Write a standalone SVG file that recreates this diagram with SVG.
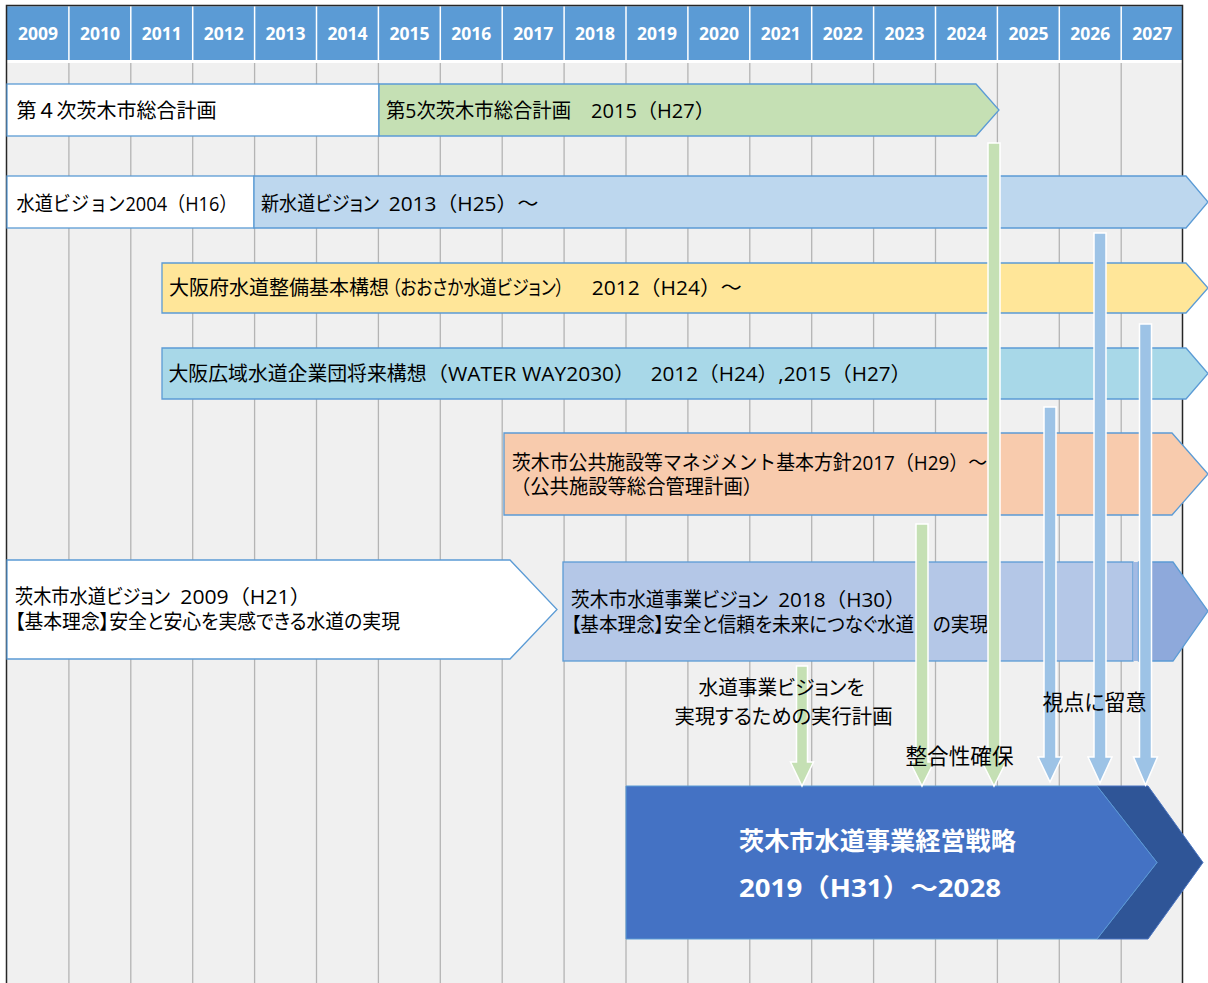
<svg xmlns="http://www.w3.org/2000/svg" width="1208" height="983" viewBox="0 0 1208 983">
<style>
.t{font-family:"Open Sans","Noto Sans CJK JP",sans-serif;font-size:20px;fill:#000}
.p{font-feature-settings:"palt"}
.lbl{font-size:21.5px}
.yr{font-family:"Open Sans","Noto Sans CJK JP",sans-serif;font-size:17.5px;font-weight:700;fill:#fff;text-anchor:middle}
.ttl{font-family:"Open Sans","Noto Sans CJK JP",sans-serif;font-size:25px;font-weight:700;fill:#fff}
.box{stroke:#5B9BD5;stroke-width:1.3}
.cg{fill:#C5E0B4;stroke:#fff;stroke-width:1.5}
.cb{fill:#9DC3E6;stroke:#fff;stroke-width:1.5}
</style>
<rect width="1208" height="983" fill="#fff"/>
<g id="timeline">
<rect x="7" y="63" width="1175.5" height="920" fill="#F0F0F0"/>
<rect x="7" y="6.3" width="1175.5" height="53.7" fill="#5B9BD5"/>
<path d="M68.9 6V60M130.8 6V60M192.7 6V60M254.6 6V60M316.5 6V60M378.4 6V60M440.3 6V60M502.2 6V60M564.1 6V60M626 6V60M687.9 6V60M749.8 6V60M811.7 6V60M873.6 6V60M935.5 6V60M997.4 6V60M1059.3 6V60M1121.2 6V60" stroke="#fff" stroke-width="1.5"/>
<path d="M68.9 63V983M130.8 63V983M192.7 63V983M254.6 63V983M316.5 63V983M378.4 63V983M440.3 63V983M502.2 63V983M564.1 63V983M626 63V983M687.9 63V983M749.8 63V983M811.7 63V983M873.6 63V983M935.5 63V983M997.4 63V983M1059.3 63V983M1121.2 63V983" stroke="#B4B4B4" stroke-width="1.3"/>
<path d="M6.5 983V5.5H1182.5V983" fill="none" stroke="#262626" stroke-width="1.5"/>
<text class="yr" x="38" y="40">2009</text>
<text class="yr" x="99.9" y="40">2010</text>
<text class="yr" x="161.8" y="40">2011</text>
<text class="yr" x="223.7" y="40">2012</text>
<text class="yr" x="285.6" y="40">2013</text>
<text class="yr" x="347.5" y="40">2014</text>
<text class="yr" x="409.4" y="40">2015</text>
<text class="yr" x="471.3" y="40">2016</text>
<text class="yr" x="533.2" y="40">2017</text>
<text class="yr" x="595.1" y="40">2018</text>
<text class="yr" x="657" y="40">2019</text>
<text class="yr" x="718.9" y="40">2020</text>
<text class="yr" x="780.8" y="40">2021</text>
<text class="yr" x="842.7" y="40">2022</text>
<text class="yr" x="904.6" y="40">2023</text>
<text class="yr" x="966.5" y="40">2024</text>
<text class="yr" x="1028.4" y="40">2025</text>
<text class="yr" x="1090.3" y="40">2026</text>
<text class="yr" x="1152.2" y="40">2027</text>
</g>
<g id="plan4">
<rect class="box" x="7" y="84" width="372" height="52" fill="#fff"/>
<text class="t" x="16.5" y="117.5">第４次茨木市総合計画</text>
</g>
<g id="plan5">
<polygon class="box" points="379,84 976,84 999,110 976,136 379,136" fill="#C5E0B4"/>
<text class="t" y="117.5"><tspan x="386" textLength="185" lengthAdjust="spacingAndGlyphs">第5次茨木市総合計画</tspan><tspan x="585.8" textLength="129" lengthAdjust="spacingAndGlyphs"> 2015（H27）</tspan></text>
</g>
<g id="vision2004">
<rect class="box" x="7" y="176" width="247" height="52" fill="#fff"/>
<text class="t" x="16.5" y="211" textLength="221" lengthAdjust="spacingAndGlyphs">水道ビジョン2004（H16）</text>
</g>
<g id="vision2013">
<polygon class="box" points="254,176 1186,176 1208,202 1186,228 254,228" fill="#BDD7EE"/>
<text class="t" y="211"><tspan class="p" x="261" textLength="118" lengthAdjust="spacingAndGlyphs">新水道ビジョン</tspan><tspan x="383.3" textLength="155" lengthAdjust="spacingAndGlyphs"> 2013（H25）～</tspan></text>
</g>
<g id="osaka-pref">
<polygon class="box" points="162,263 1186,263 1208,288 1186,313 162,313" fill="#FFE699"/>
<text class="t" y="295"><tspan x="169" textLength="220" lengthAdjust="spacingAndGlyphs">大阪府水道整備基本構想</tspan><tspan class="p" x="392" textLength="172" lengthAdjust="spacingAndGlyphs">（おおさか水道ビジョン）</tspan><tspan x="586.3" textLength="155.5" lengthAdjust="spacingAndGlyphs"> 2012（H24）～</tspan></text>
</g>
<g id="osaka-wide">
<polygon class="box" points="162,348 1186,348 1208,373.5 1186,399 162,399" fill="#A8D8E8"/>
<text class="t" y="381"><tspan x="168.5" textLength="258" lengthAdjust="spacingAndGlyphs">大阪広域水道企業団将来構想</tspan><tspan x="427" textLength="208" lengthAdjust="spacingAndGlyphs">（WATER WAY2030）</tspan><tspan x="645.3" textLength="266" lengthAdjust="spacingAndGlyphs"> 2012（H24）,2015（H27）</tspan></text>
</g>
<g id="asset-mgmt">
<polygon class="box" points="504,433 1172,433 1208,474 1172,515 504,515" fill="#F8CBAD"/>
<text class="t"><tspan x="512" y="469.5" textLength="475" lengthAdjust="spacingAndGlyphs">茨木市公共施設等マネジメント基本方針2017（H29）～</tspan><tspan x="511" y="494.2" textLength="251" lengthAdjust="spacingAndGlyphs">（公共施設等総合管理計画）</tspan></text>
</g>
<g id="vision2009">
<polygon class="box" points="7,560 510,560 557,609.5 510,659 7,659" fill="#fff"/>
<text class="t"><tspan class="p" x="15" y="604" textLength="155" lengthAdjust="spacingAndGlyphs">茨木市水道ビジョン</tspan><tspan x="174.8" y="604" textLength="136" lengthAdjust="spacingAndGlyphs"> 2009（H21）</tspan><tspan class="p" x="15" y="628.7" textLength="385" lengthAdjust="spacingAndGlyphs">【基本理念】安全と安心を実感できる水道の実現</tspan></text>
</g>
<g id="vision2018">
<rect class="box" x="563" y="562" width="570" height="99" fill="#B4C7E7"/>
<rect x="1133.5" y="562" width="5" height="99" fill="#A3BAE3"/>
<polygon class="box" points="1138.5,562 1173,562 1208,611 1173,661 1138.5,661" fill="#8EA9DB"/>
<text class="t"><tspan class="p" x="571" y="607" textLength="197" lengthAdjust="spacingAndGlyphs">茨木市水道事業ビジョン</tspan><tspan x="772.8" y="607" textLength="133" lengthAdjust="spacingAndGlyphs"> 2018（H30）</tspan><tspan class="p" x="571" y="631.7" textLength="417" lengthAdjust="spacingAndGlyphs">【基本理念】安全と信頼を未来につなぐ水道　の実現</tspan></text>
</g>
<g id="strategy">
<polygon points="1097,786 1148,786 1203,862.5 1148,939 1097,939 1157,862.5" fill="#2F5597" stroke="#4A74C0" stroke-width="1"/>
<polygon points="626,786 1097,786 1157,862.5 1097,939 626,939" fill="#4472C4" stroke="#5B9BD5" stroke-width="1"/>
<text class="ttl"><tspan x="739" y="850" textLength="277" lengthAdjust="spacingAndGlyphs">茨木市水道事業経営戦略</tspan><tspan x="739" y="897" textLength="262" lengthAdjust="spacingAndGlyphs">2019（H31）～2028</tspan></text>
</g>
<g id="connectors">
<path class="cg" d="M796.5 666H807.5V762H813.5L802 786L790.5 762H796.5Z"/>
<path class="cg" d="M916 524H928V762H934L922 786L910 762H916Z"/>
<path class="cg" d="M988 143H1000V762H1006L994 786L982 762H988Z"/>
<path class="cb" d="M1044 407H1056V757H1062L1050 782L1038 757H1044Z"/>
<path class="cb" d="M1094 233H1106V757H1112L1100 783L1088 757H1094Z"/>
<path class="cb" d="M1139.5 324H1151.5V757H1157.5L1145.5 785L1133.5 757H1139.5Z"/>
</g>
<g id="connector-labels">
<text class="t p"><tspan x="698.5" y="695" textLength="166" lengthAdjust="spacingAndGlyphs">水道事業ビジョンを</tspan><tspan x="674.5" y="723.5" textLength="218" lengthAdjust="spacingAndGlyphs">実現するための実行計画</tspan></text>
<text class="t lbl" x="905.5" y="764" textLength="108" lengthAdjust="spacingAndGlyphs">整合性確保</text>
<text class="t lbl p" x="1042.5" y="709.5" textLength="104" lengthAdjust="spacingAndGlyphs">視点に留意</text>
</g>
</svg>
